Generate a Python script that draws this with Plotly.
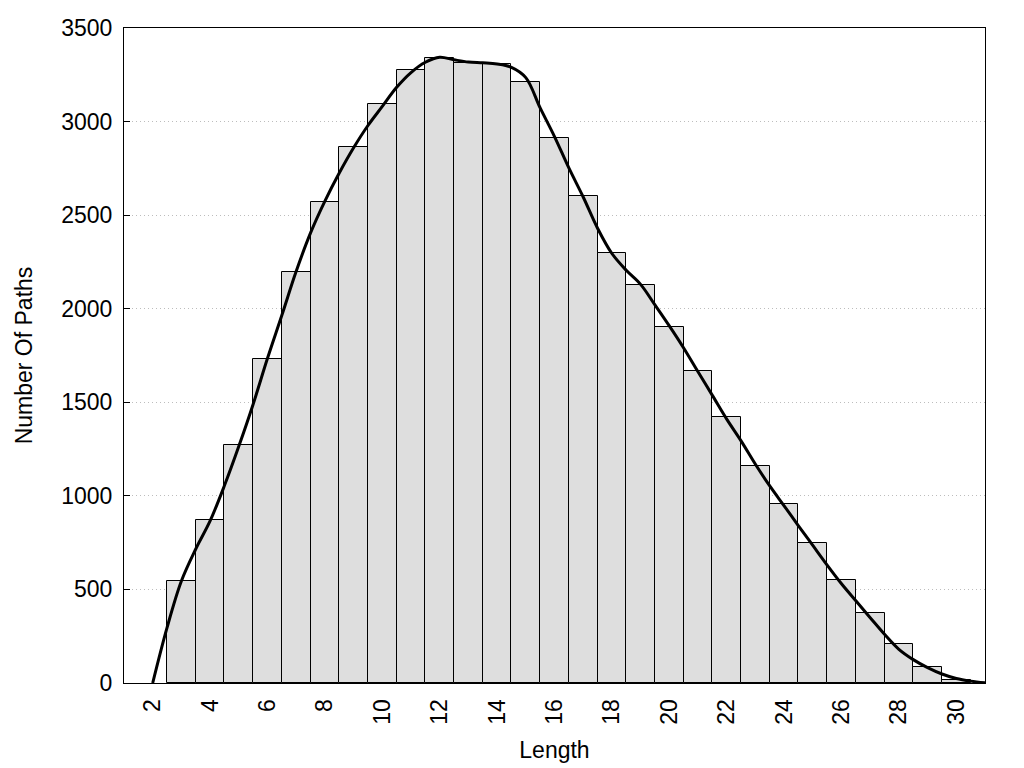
import plotly.graph_objects as go

# Histogram data: path length vs. number of paths
lengths = list(range(3, 31))
counts = [545, 870, 1271, 1731, 2198, 2571, 2865, 3096, 3276, 3340, 3314, 3308,
          3212, 2913, 2603, 2298, 2127, 1902, 1668, 1419, 1160, 957, 747, 549,
          374, 207, 84, 14]

# Smoothed density curve
curve_x = [2.0, 2.5, 3.0, 3.5, 4.0, 4.5, 5.0, 5.5, 6.0, 6.5, 7.0, 7.5, 8.0, 8.5,
           9.0, 9.5, 10.0, 10.5, 11.0, 11.5, 12.0, 12.5, 13.0, 13.5, 14.0, 14.5,
           15.0, 15.5, 16.0, 16.5, 17.0, 17.5, 18.0, 18.5, 19.0, 19.5, 20.0, 20.5,
           21.0, 21.5, 22.0, 22.5, 23.0, 23.5, 24.0, 24.5, 25.0, 25.5, 26.0, 26.5,
           27.0, 27.5, 28.0, 28.5, 29.0, 29.5, 30.0, 30.5, 31.0]
curve_y = [0, 296, 545, 716, 866, 1055, 1265, 1490, 1735, 1965, 2200, 2405, 2575,
           2725, 2860, 2979, 3081, 3183, 3262, 3317, 3344, 3330, 3318, 3314, 3308,
           3290, 3235, 3073, 2920, 2752, 2597, 2430, 2295, 2205, 2130, 2020, 1908,
           1790, 1663, 1537, 1410, 1294, 1169, 1053, 947, 840, 735, 630, 530, 439,
           349, 260, 180, 125, 82, 48, 24, 10, 1]

x_ticks = list(range(2, 31, 2))
y_ticks = list(range(0, 3501, 500))

FONT = "Liberation Sans, Arial, sans-serif"

fig = go.Figure()
fig.add_trace(go.Bar(
    x=lengths, y=counts, width=1,
    marker=dict(color="#dedede", line=dict(color="black", width=1)),
    showlegend=False,
))
fig.add_trace(go.Scatter(
    x=curve_x, y=curve_y, mode="lines",
    line=dict(color="black", width=3, shape="spline", smoothing=1.0),
    showlegend=False,
))

fig.update_layout(
    width=1024, height=768,
    margin=dict(l=116, r=47, t=20, b=93, autoexpand=False),
    plot_bgcolor="white", paper_bgcolor="white",
    bargap=0,
    font=dict(family=FONT, size=23, color="black"),
    xaxis=dict(
        range=[1, 31], tickvals=x_ticks, ticktext=[str(v) for v in x_ticks],
        tickangle=-90, showgrid=False, zeroline=False,
        showline=True, linecolor="black", linewidth=1, mirror=True,
        ticks="", ticklabelstandoff=6, automargin=False,
        title=dict(text="Length", font=dict(size=23), standoff=18),
    ),
    yaxis=dict(
        range=[0, 3500], tickvals=y_ticks, ticktext=[str(v) for v in y_ticks],
        showgrid=True, gridcolor="#bdbdbd", griddash="1px,3px", gridwidth=1,
        zeroline=False,
        showline=True, linecolor="black", linewidth=1, mirror=True,
        ticks="inside", ticklen=6, tickcolor="black", ticklabelstandoff=6,
        automargin=False,
        title=dict(text="Number Of Paths", font=dict(size=23), standoff=22),
    ),
)

fig.write_html("out.html")
